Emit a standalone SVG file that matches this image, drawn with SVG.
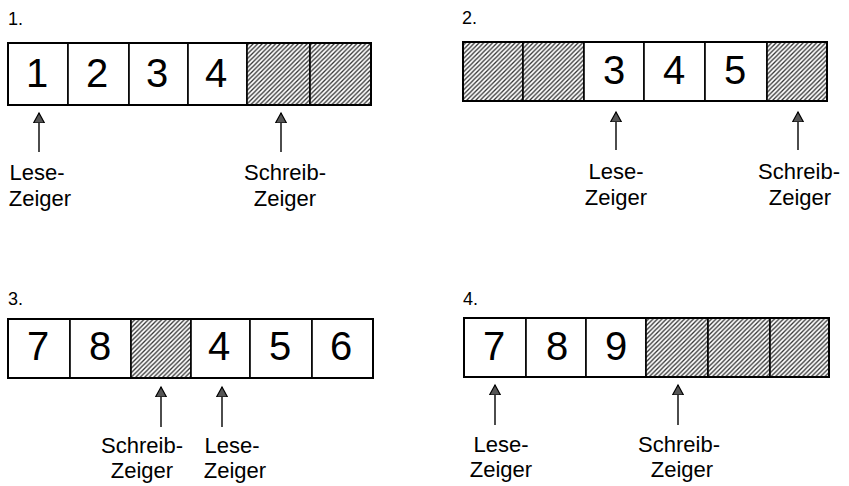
<svg xmlns="http://www.w3.org/2000/svg" width="849" height="486" viewBox="0 0 849 486">
<defs>
<pattern id="hatch" patternUnits="userSpaceOnUse" width="4.5" height="4.5">
<rect width="4.5" height="4.5" fill="#fff"/>
<path d="M-1,1 L1,-1 M0,4.5 L4.5,0 M3.5,5.5 L5.5,3.5" stroke="#333" stroke-width="1.3"/>
</pattern>
<marker id="ah" markerUnits="userSpaceOnUse" markerWidth="14" markerHeight="12" refX="10" refY="6" orient="auto">
<path d="M10,6 L0,0.5 L0,11.5 Z" fill="#555" stroke="#000" stroke-width="1.2" stroke-linejoin="miter"/>
</marker>
</defs>
<style>
.cell{fill:#fff;stroke:#000;stroke-width:1.6}
.h{fill:url(#hatch);stroke:#000;stroke-width:1.6}
.frame{fill:none;stroke:#000;stroke-width:2}
.d{font-family:"Liberation Sans",Arial,sans-serif;font-size:40px;text-anchor:middle;fill:#000}
.t{font-family:"Liberation Sans",Arial,sans-serif;font-size:18px;fill:#000}
.l{font-family:"Liberation Sans",Arial,sans-serif;font-size:22px;text-anchor:middle;fill:#000}
.arr{stroke:#000;stroke-width:1.4;fill:none;marker-end:url(#ah)}
</style>
<rect width="849" height="486" fill="#fff"/>

<g id="panel1">
<text class="t" x="8" y="25">1.</text>
<g id="p1c1"><rect class="cell" x="8" y="43" width="60" height="62"/><text class="d" x="37" y="87">1</text></g>
<g id="p1c2"><rect class="cell" x="68" y="43" width="61" height="62"/><text class="d" x="97" y="87">2</text></g>
<g id="p1c3"><rect class="cell" x="129" y="43" width="59" height="62"/><text class="d" x="157" y="87">3</text></g>
<g id="p1c4"><rect class="cell" x="188" y="43" width="59" height="62"/><text class="d" x="216" y="87">4</text></g>
<g id="p1c5"><rect class="h" x="247" y="43" width="63" height="62"/></g>
<g id="p1c6"><rect class="h" x="310" y="43" width="61" height="62"/></g>
<rect class="frame" x="8" y="43" width="363" height="62"/>
<g id="p1lese"><text class="l" x="37" y="180">Lese-</text><text class="l" x="40" y="206">Zeiger</text></g>
<g id="p1schreib"><text class="l" x="285" y="180">Schreib-</text><text class="l" x="285" y="206">Zeiger</text></g>
</g>

<g id="panel2">
<text class="t" x="462" y="24">2.</text>
<g id="p2c1"><rect class="h" x="463" y="42" width="60" height="59"/></g>
<g id="p2c2"><rect class="h" x="523" y="42" width="61" height="59"/></g>
<g id="p2c3"><rect class="cell" x="584" y="42" width="60" height="59"/><text class="d" x="614" y="84">3</text></g>
<g id="p2c4"><rect class="cell" x="644" y="42" width="61" height="59"/><text class="d" x="674" y="84">4</text></g>
<g id="p2c5"><rect class="cell" x="705" y="42" width="62" height="59"/><text class="d" x="735" y="84">5</text></g>
<g id="p2c6"><rect class="h" x="767" y="42" width="60" height="59"/></g>
<rect class="frame" x="463" y="42" width="364" height="59"/>
<g id="p2lese"><text class="l" x="616" y="179">Lese-</text><text class="l" x="616" y="205">Zeiger</text></g>
<g id="p2schreib"><text class="l" x="799" y="179">Schreib-</text><text class="l" x="800" y="205">Zeiger</text></g>
</g>

<g id="panel3">
<text class="t" x="8" y="305">3.</text>
<g id="p3c1"><rect class="cell" x="8" y="319" width="62" height="59"/><text class="d" x="38" y="360">7</text></g>
<g id="p3c2"><rect class="cell" x="70" y="319" width="61" height="59"/><text class="d" x="100" y="360">8</text></g>
<g id="p3c3"><rect class="h" x="131" y="319" width="60" height="59"/></g>
<g id="p3c4"><rect class="cell" x="191" y="319" width="59" height="59"/><text class="d" x="219" y="360">4</text></g>
<g id="p3c5"><rect class="cell" x="250" y="319" width="62" height="59"/><text class="d" x="280" y="360">5</text></g>
<g id="p3c6"><rect class="cell" x="312" y="319" width="61" height="59"/><text class="d" x="341" y="360">6</text></g>
<rect class="frame" x="8" y="319" width="365" height="59"/>
<g id="p3schreib"><text class="l" x="142" y="453">Schreib-</text><text class="l" x="142" y="478">Zeiger</text></g>
<g id="p3lese"><text class="l" x="232" y="453">Lese-</text><text class="l" x="235" y="478">Zeiger</text></g>
</g>

<g id="panel4">
<text class="t" x="463" y="305">4.</text>
<g id="p4c1"><rect class="cell" x="464" y="318" width="62" height="59"/><text class="d" x="494" y="360">7</text></g>
<g id="p4c2"><rect class="cell" x="526" y="318" width="60" height="59"/><text class="d" x="557" y="360">8</text></g>
<g id="p4c3"><rect class="cell" x="586" y="318" width="60" height="59"/><text class="d" x="616" y="360">9</text></g>
<g id="p4c4"><rect class="h" x="646" y="318" width="62" height="59"/></g>
<g id="p4c5"><rect class="h" x="708" y="318" width="62" height="59"/></g>
<g id="p4c6"><rect class="h" x="770" y="318" width="59" height="59"/></g>
<rect class="frame" x="464" y="318" width="365" height="59"/>
<g id="p4lese"><text class="l" x="501" y="452">Lese-</text><text class="l" x="501" y="477">Zeiger</text></g>
<g id="p4schreib"><text class="l" x="679" y="452">Schreib-</text><text class="l" x="682" y="477">Zeiger</text></g>
</g>

<g id="connectors">
<line class="arr" x1="39" y1="152" x2="39" y2="113"/>
<line class="arr" x1="281" y1="152" x2="281" y2="113"/>
<line class="arr" x1="616" y1="150" x2="616" y2="112"/>
<line class="arr" x1="798" y1="150" x2="798" y2="112"/>
<line class="arr" x1="161" y1="427" x2="161" y2="387"/>
<line class="arr" x1="222" y1="427" x2="222" y2="387"/>
<line class="arr" x1="495" y1="425" x2="495" y2="385"/>
<line class="arr" x1="678" y1="425" x2="678" y2="385"/>
</g>
</svg>
